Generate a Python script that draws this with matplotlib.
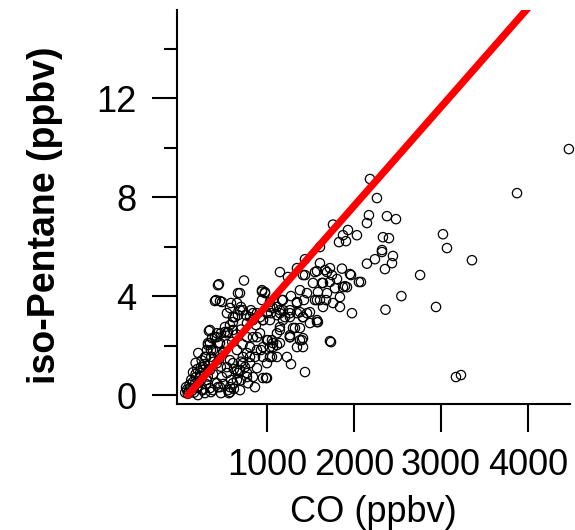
import matplotlib
matplotlib.use("Agg")
import matplotlib.pyplot as plt
from matplotlib.ticker import FixedLocator, MultipleLocator

plt.rcParams['font.family'] = ['Liberation Sans', 'DejaVu Sans']

# CO (ppbv) vs iso-pentane (ppbv)
co = [
    4470, 3874, 3023, 3069, 3356, 2760, 2943, 3172, 3230, 2545, 2362, 1977, 1736, 1437, 1276, 1000, 954, 563,
    2184, 2264, 2172, 2149, 2379, 2483, 1759, 1931, 2034, 1874, 1828, 1908, 2333, 2402, 2322, 2448, 2437,
    2241, 2149, 1609, 1437, 1609, 1862, 1724, 2356, 2080, 1966, 2322,
    448, 736, 402, 460, 667, 943, 1149, 1241, 1345, 1437, 1552, 1690, 1747, 2057, 333,
    1644, 1529, 1586, 1460, 1425, 1345, 1575, 1805, 1874, 1782, 1724, 1839, 1839, 1678, 1644, 1586, 1414,
    1402, 1322, 1264, 1184, 1149, 1115, 1057, 1069, 1115, 1057, 1264, 1345, 1414, 1184, 1115, 1034, 1069,
    1172, 977, 943,
    805, 885, 770, 690, 632, 575, 517, 425, 368, 322, 310, 287,
    655, 724, 805, 609, 690, 540, 483, 425, 770, 839, 655, 575, 345, 264, 195, 149, 230, 264,
    920, 1000, 839, 885, 954, 805, 770, 1034, 1115, 1000, 885, 805, 770,
    402, 471, 552, 356, 299, 241, 230, 184, 345, 437, 517, 609, 667, 701, 759, 816, 414, 586, 874, 954, 1046,
    552, 437, 586, 667, 747, 862, 931, 1011, 989, 782, 862, 356, 287, 207, 471,
    977, 1276, 1184, 1115, 1379,
    655, 575, 540, 609, 724, 839, 920, 1000, 1034, 1149, 1207, 1264,
    1414, 1575, 1667, 1954, 1632, 1897, 1552, 1379, 1460, 1575, 1299, 1379, 1414, 1264, 1149, 1724,
    60, 80, 100, 120, 90, 110, 140, 160, 70, 130, 170, 200, 180, 220, 250, 150, 200, 240, 300, 320,
    280, 330, 380, 390, 450, 500, 540, 420, 470, 360, 620, 700, 600, 650, 700, 720, 500, 620, 700, 250,
    210, 180,
    437, 483, 690, 943, 345, 425, 322, 379, 460, 540, 609, 494, 575, 425, 345, 264, 310, 540, 655, 724,
    770, 609, 690, 575, 460, 379,
    839, 954, 1034, 1149, 1264, 1345, 1414, 1494, 1575, 1149, 1264, 1379, 1069, 954, 885, 1034, 1230,
    1345, 1494, 1609, 1690, 1759, 1920,
]
ipent = [
    9.94, 8.16, 6.50, 5.94, 5.45, 4.85, 3.56, 0.73, 0.81, 4.00, 3.45, 3.31, 2.14, 0.93, 1.25, 0.69, 0.69, 0.08,
    8.73, 7.96, 7.27, 6.95, 7.23, 7.11, 6.89, 6.67, 6.46, 6.46, 6.18, 6.22, 6.38, 6.34, 5.86, 5.62, 5.33,
    5.49, 5.31, 5.98, 5.49, 5.33, 5.11, 5.13, 5.09, 4.57, 4.85, 5.78,
    4.48, 4.63, 3.80, 3.80, 4.12, 4.18, 4.97, 4.77, 5.13, 4.85, 4.97, 4.97, 4.85, 4.57, 2.59,
    4.53, 4.53, 4.16, 4.12, 3.84, 3.76, 3.84, 4.69, 4.36, 4.32, 4.57, 3.96, 3.56, 3.84, 3.56, 2.95, 1.94,
    2.22, 2.71, 2.42, 3.03, 2.75, 2.50, 2.22, 1.94, 2.02, 1.54, 3.15, 3.31, 3.15, 3.43, 3.23, 3.76, 3.52,
    3.84, 4.16, 3.84,
    3.15, 3.31, 2.91, 3.43, 3.15, 2.83, 2.55, 2.50, 2.30, 2.02, 1.82, 1.54,
    1.82, 1.54, 1.29, 1.29, 1.01, 1.13, 0.73, 0.48, 0.89, 0.73, 0.61, 0.32, 0.28, 0.20, 0.32, 0.53, 0.73, 1.01,
    2.50, 2.22, 2.34, 1.82, 1.54, 1.94, 2.34, 1.94, 1.54, 1.29, 1.09, 1.54, 1.70,
    2.34, 2.50, 2.55, 1.82, 1.54, 1.13, 0.89, 0.73, 2.10, 2.10, 2.75, 2.95, 3.23, 3.56, 3.23, 3.43, 3.84, 3.72, 2.83, 3.03, 3.31,
    0.20, 0.32, 0.61, 0.89, 1.13, 1.54, 1.82, 2.22, 0.69, 0.48, 0.32, 0.12, 0.08, 0.00, 0.08,
    4.12, 4.00, 3.84, 3.56, 4.24,
    3.72, 3.52, 3.31, 3.15, 3.43, 3.03, 3.15, 3.31, 3.03, 3.43, 3.15, 3.31,
    4.85, 5.01, 5.05, 4.89, 4.53, 4.40, 3.84, 3.35, 3.31, 3.03, 2.71, 2.71, 2.30, 2.34, 2.10, 2.18,
    0.10, 0.22, 0.15, 0.30, 0.05, 0.42, 0.18, 0.10, 0.32, 0.62, 0.45, 0.30, 0.85, 0.50, 0.22, 0.92, 1.05, 0.60, 0.45, 0.75,
    1.25, 1.05, 0.85, 1.35, 1.45, 1.75, 2.05, 1.75, 1.15, 1.55, 1.05, 1.35, 2.15, 2.45, 2.65, 2.05, 0.45, 0.25, 0.60, 1.40,
    1.70, 1.30,
    4.44, 3.76, 4.12, 4.24, 2.63, 2.34, 2.10, 1.82, 2.10, 2.50, 2.63, 1.70, 1.41, 1.29, 1.01, 1.13, 0.61, 0.89, 1.01, 1.29,
    0.73, 0.48, 0.20, 0.12, 0.32, 0.20,
    3.31, 3.03, 3.56, 3.31, 3.43, 3.72, 3.15, 2.91, 2.95, 2.63, 2.34, 2.22, 2.10, 1.94, 2.34, 1.54, 1.54,
    1.94, 3.35, 3.84, 4.12, 3.72, 4.36,
]

# fitted line: slope (ppbv/ppbv) and intercept
fit_slope = 0.0040
fit_intercept = -0.36
fit_x = [90, 4500]
fit_y = [fit_slope * x + fit_intercept for x in fit_x]

x_ticks = [1000, 2000, 3000, 4000]
y_ticks = [0, 4, 8, 12]

fig = plt.figure(figsize=(5.75, 5.3), dpi=100)
ax = fig.add_axes([177 / 575, 1 - 404 / 530, 393 / 575, 394 / 530])

ax.scatter(co, ipent, s=45, facecolors='none', edgecolors='black', linewidths=0.9, zorder=2, clip_on=False)
ax.plot(fit_x, fit_y, color='#ff0000', lw=5.2, solid_capstyle='round', zorder=3)

ax.set_xlim(-34, 4483)
ax.set_ylim(-0.36, 15.56)

for s in ['top', 'right']:
    ax.spines[s].set_visible(False)
for s in ['left', 'bottom']:
    ax.spines[s].set_linewidth(1.5)

ax.xaxis.set_major_locator(FixedLocator(x_ticks))
ax.yaxis.set_major_locator(FixedLocator(y_ticks))
ax.yaxis.set_minor_locator(MultipleLocator(2))
ax.tick_params(axis='x', which='major', length=20, width=1.5, pad=12, labelsize=26)
ax.tick_params(axis='y', which='major', length=18, width=1.5, pad=11, labelsize=26)
ax.tick_params(axis='y', which='minor', length=9.5, width=1.5)

ax.set_xlabel('CO (ppbv)', fontsize=26, labelpad=8)
ax.set_ylabel('iso-Pentane (ppbv)', fontsize=27, fontweight='bold')
ax.yaxis.set_label_coords(-0.29, 0.48)

fig.savefig('out.png', dpi=100)
